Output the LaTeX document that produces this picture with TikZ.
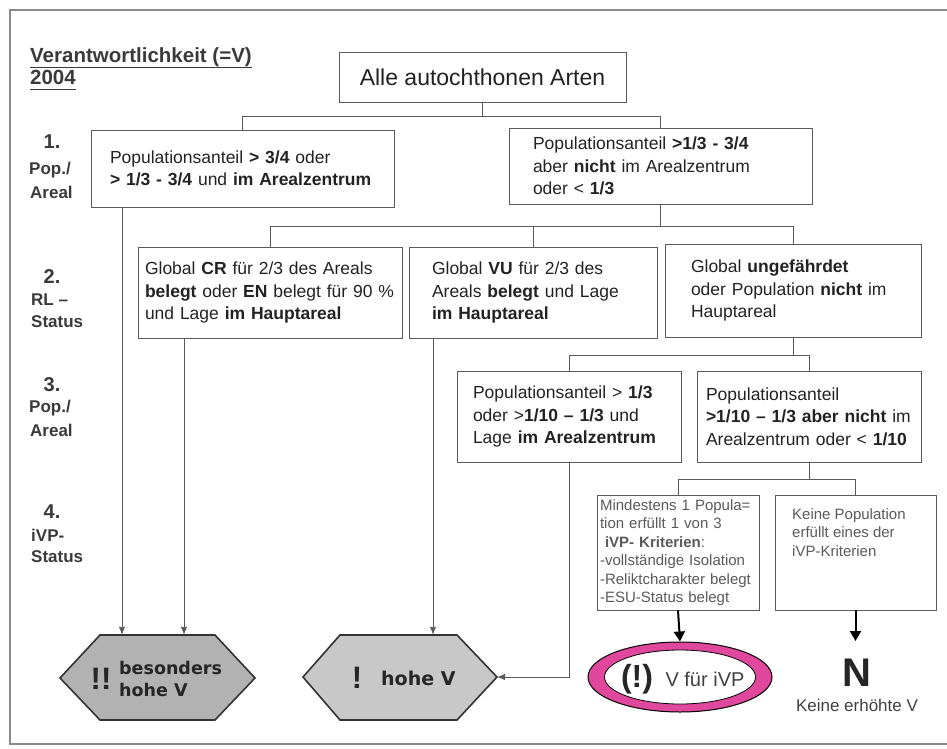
\documentclass[tikz,border=0pt]{standalone}
\usepackage{fontspec}
\setmainfont{Liberation Sans}
\newfontfamily\djv{DejaVu Sans}
\usetikzlibrary{arrows.meta,shapes.geometric}
\definecolor{ln}{HTML}{5A5A5A}
\definecolor{tx}{HTML}{222222}
\definecolor{lab}{HTML}{3A3A3A}
\definecolor{pinkring}{HTML}{E0489E}
\definecolor{hexA}{HTML}{B2B2B2}
\definecolor{hexB}{HTML}{C8C8C8}
\definecolor{frm}{HTML}{8A8A8A}
\begin{document}
\begin{tikzpicture}[x=1pt,y=-1pt,
  box/.style={draw=ln, line width=0.9pt, rectangle, inner ysep=0pt, align=left, text=tx,
    font=\fontsize{17.5}{22.5}\selectfont},
  smallbox/.style={draw=ln, line width=0.8pt, rectangle, inner ysep=0pt, align=left, text=ln,
    font=\fontsize{15}{18.5}\selectfont},
  conn/.style={draw=ln, line width=0.9pt},
  arr/.style={conn, -{Latex[length=8pt,width=6.5pt]}},
  thickarr/.style={draw=black, line width=2pt, -{Triangle[length=10pt,width=11pt]}},
  hex/.style={draw=black!80, line width=1.6pt},
  rowlab/.style={anchor=west, inner sep=0pt, text=lab, font=\bfseries\fontsize{17}{17}\selectfont},
  rownum/.style={inner sep=0pt, text=lab, font=\bfseries\fontsize{20}{20}\selectfont},
  hextxt/.style={inner sep=0pt, text=black!85, font=\djv\bfseries\fontsize{17.5}{22.5}\selectfont, align=left}
]
\useasboundingbox (0,0) rectangle (947,749);
% frame
\draw[frm, line width=1.3pt] (947,10) -- (10,10) -- (10,744) -- (947,744);

% title
\node[anchor=base west, inner sep=0pt, text=lab, font=\bfseries\fontsize{20.5}{22}\selectfont] (t1) at (30,63) {Verantwortlichkeit (=V)};
\node[anchor=base west, inner sep=0pt, text=lab, font=\bfseries\fontsize{20.5}{22}\selectfont] (t2) at (30,85) {2004};
\draw[lab, line width=1.2pt] ([yshift=-4.5pt]t1.base west) -- ([yshift=-4.5pt]t1.base east);
\draw[lab, line width=1.2pt] ([yshift=-4.5pt]t2.base west) -- ([yshift=-4.5pt]t2.base east);

% row labels
\node[rownum] (n1) at (52,142) {1.};
\node[rowlab] (l1a) at (29,170) {Pop./};
\node[rowlab] (l1b) at (30,192) {Areal};
\node[rownum] (n2) at (52,277) {2.};
\node[rowlab] (l2a) at (31,300) {RL –};
\node[rowlab] (l2b) at (31,322) {Status};
\node[rownum] (n3) at (52,385) {3.};
\node[rowlab] (l3a) at (29,408) {Pop./};
\node[rowlab] (l3b) at (30,430) {Areal};
\node[rownum] (n4) at (52,512) {4.};
\node[rowlab] (l4a) at (31,535) {iVP-};
\node[rowlab] (l4b) at (31,557) {Status};

% top box
\node[box, align=center, minimum width=287pt, minimum height=50pt, font=\fontsize{23}{26}\selectfont] (alle) at (482.5,77) {Alle autochthonen Arten};

% level 1
\node[box, minimum width=303pt, minimum height=77pt, inner xsep=19pt, text width=265pt] (b1a) at (242.5,168.5)
  {Populationsanteil \textbf{> 3/4} oder\\\textbf{> 1/3 - 3/4} und \textbf{im Arealzentrum}};
\node[box, minimum width=303pt, minimum height=76pt, inner xsep=24pt, text width=255pt] (b1b) at (660.5,166)
  {Populationsanteil \textbf{>1/3 - 3/4}\\aber \textbf{nicht} im Arealzentrum\\oder < \textbf{1/3}};

% level 2
\node[box, minimum width=264pt, minimum height=91pt, inner xsep=7pt, text width=250pt] (b2a) at (270,292.5)
  {Global \textbf{CR} für 2/3 des Areals\\\textbf{belegt} oder \textbf{EN} belegt für 90~\%\\und Lage \textbf{im Hauptareal}};
\node[box, minimum width=248pt, minimum height=91pt, inner xsep=23pt, text width=202pt] (b2b) at (533,292.5)
  {Global \textbf{VU} für 2/3 des\\Areals \textbf{belegt} und Lage\\\textbf{im Hauptareal}};
\node[box, minimum width=256pt, minimum height=93pt, inner xsep=26pt, text width=204pt] (b2c) at (793,290.5)
  {Global \textbf{ungefährdet}\\oder Population \textbf{nicht} im\\Hauptareal};

% level 3
\node[box, minimum width=224pt, minimum height=91pt, inner xsep=16pt, text width=192pt] (b3a) at (569,416.5)
  {Populationsanteil > \textbf{1/3}\\oder >\textbf{1/10 – 1/3} und\\Lage \textbf{im Arealzentrum}};
\node[box, minimum width=224pt, minimum height=91pt, inner xsep=9pt, text width=206pt] (b3b) at (809,416.5)
  {Populationsanteil\\\textbf{>1/10 – 1/3 aber nicht} im\\Arealzentrum oder < \textbf{1/10}};

% level 4
\node[smallbox, minimum width=162pt, minimum height=115pt, inner xsep=3pt, text width=156pt] (b4a) at (678,552.5)
  {Mindestens 1 Popula=\\tion erfüllt 1 von 3\\\hspace*{5pt}\textbf{iVP- Kriterien}:\\-vollständige Isolation\\-Reliktcharakter belegt\\-ESU-Status belegt};
\node[smallbox, minimum width=161pt, minimum height=115pt] (b4b) at (855.5,552.5) {};
\node[anchor=north west, inner sep=0pt, align=left, text=ln, font=\fontsize{15}{18.5}\selectfont] (b4bt) at (792,508)
  {Keine Population\\erfüllt eines der\\iVP-Kriterien};

% hexagons
\draw[hex, fill=hexA] (60,678) -- (100,635) -- (215,635) -- (255,678) -- (215,720) -- (100,720) -- cycle;
\node[minimum width=115pt, minimum height=85pt, inner sep=0pt] (h1) at (157.5,677.5) {};
\node[inner sep=0pt, text=black!85, font=\bfseries\fontsize{31}{31}\selectfont] (h1ex) at (101,679) {!!};
\node[hextxt, anchor=west] (h1t) at (119,679) {besonders\\hohe V};

\draw[hex, fill=hexB] (303,677) -- (340,635) -- (457,635) -- (497,677) -- (457,720) -- (340,720) -- cycle;
\node[minimum width=117pt, minimum height=85pt, inner sep=0pt] (h2) at (398.5,677.5) {};
\coordinate (h2e) at (497,677);
\node[inner sep=0pt, text=black!85, font=\bfseries\fontsize{31}{31}\selectfont] (h2ex) at (357,678) {!};
\node[hextxt, anchor=west, font=\djv\bfseries\fontsize{19}{22}\selectfont] (h2t) at (381,678) {hohe V};

% ellipse
\node[ellipse, draw=black, line width=1pt, fill=pinkring, minimum width=184pt, minimum height=70pt] (ell) at (680,677) {};
\node[ellipse, draw=black, line width=0.8pt, fill=white, minimum width=151pt, minimum height=54pt] (elli) at (680,677) {};
\node[inner sep=0pt, text=black!85, font=\bfseries\fontsize{32}{32}\selectfont] (elx) at (637,679) {(!)};
\node[inner sep=0pt, text=black!75, font=\fontsize{20}{20}\selectfont] (elt) at (705,679) {V für iVP};

% N
\coordinate (ntop) at (855.5,641);
\node[inner sep=0pt, text=black!85, font=\bfseries\fontsize{40}{40}\selectfont] (nn) at (857,673) {N};
\node[inner sep=0pt, text=black!75, font=\fontsize{17}{17}\selectfont] (nk) at (857,705) {Keine erhöhte V};

% connectors
\draw[conn] (alle.south) -- ++(0,14) coordinate (j1);
\draw[conn] (j1) -| (b1a.north);
\draw[conn] (j1) -| (b1b.north);

\draw[conn] (b1b.south) -- ++(0,22) coordinate (j2);
\draw[conn] (j2) -| (b2a.north);
\draw[conn] (j2) -| (b2b.north);
\draw[conn] (j2) -| (b2c.north);

\draw[conn] (b2c.south) -- ++(0,18) coordinate (j3);
\draw[conn] (j3) -| (b3a.north);
\draw[conn] (j3) -| (b3b.north);

\draw[conn] (b3b.south) -- ++(0,17) coordinate (j4);
\draw[conn] (j4) -| (b4a.north);
\draw[conn] (j4) -| (b4b.north);

\coordinate (xa) at (122,0);
\coordinate (xb) at (184,0);
\coordinate (xc) at (433,0);
\draw[arr] (b1a.south -| xa) -- (h1.north -| xa);
\draw[arr] (b2a.south -| xb) -- (h1.north -| xb);
\draw[arr] (b2b.south -| xc) -- (h2.north -| xc);
\draw[arr] (b3a.south) |- (h2e);

\draw[thickarr] (b4a.south) -- (ell.north);
\draw[thickarr] (b4b.south) -- (ntop);
\end{tikzpicture}
\end{document}
